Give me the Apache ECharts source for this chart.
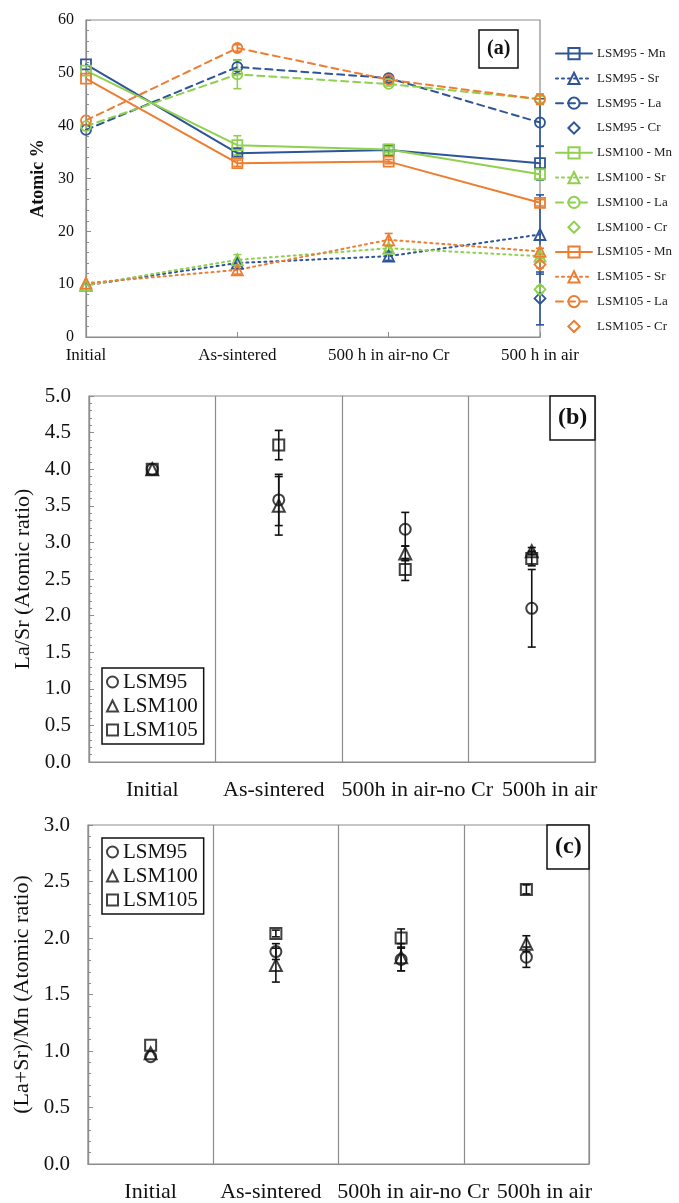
<!DOCTYPE html>
<html>
<head>
<meta charset="utf-8">
<title>LSM surface composition</title>
<script src="https://cdn.jsdelivr.net/npm/echarts@6/dist/echarts.min.js"></script>
<style>
  html, body { margin: 0; padding: 0; background: #fff; }
  #chart { width: 679px; height: 1203px; }
</style>
</head>
<body>
<div id="chart"></div>
<script>
// ---------------------------------------------------------------
// data
// ---------------------------------------------------------------
const stagesA = ['Initial', 'As-sintered', '500 h in air-no Cr', '500 h in air'];
const stagesBC = ['Initial', 'As-sintered', '500h in air-no Cr', '500h in air'];

// (a) Atomic %  (values, then +/- error)
const lsm95Mn = [51.6, 34.8, 35.4, 32.9];
const lsm95Sr = [9.8, 14.0, 15.3, 19.4];
const lsm95La = [39.2, 51.1, 49.0, 40.6];
const lsm95Cr = ['-', '-', '-', 7.3];
const lsm95MnErr = [0, 0.6, 1.0, 3.2];
const lsm95SrErr = [0, 0.5, 0.8, 7.5];
const lsm95LaErr = [0, 1.3, 0.4, 4.5];
const lsm95CrErr = [0, 0, 0, 5.0];

const lsm100Mn = [50.4, 36.3, 35.5, 30.8];
const lsm100Sr = [9.8, 14.6, 16.8, 15.3];
const lsm100La = [39.9, 49.7, 47.9, 45.0];
const lsm100Cr = ['-', '-', '-', 9.0];
const lsm100MnErr = [0, 1.8, 0.5, 1.0];
const lsm100SrErr = [0, 1.0, 0.5, 0.5];
const lsm100LaErr = [0, 2.7, 0.4, 0.6];
const lsm100CrErr = [0, 0, 0, 0.6];

const lsm105Mn = [48.9, 32.9, 33.2, 25.4];
const lsm105Sr = [10.2, 12.7, 18.4, 16.2];
const lsm105La = [41.0, 54.7, 48.7, 45.0];
const lsm105Cr = ['-', '-', '-', 13.7];
const lsm105MnErr = [0, 0.6, 0.4, 0.6];
const lsm105SrErr = [0, 0.8, 1.2, 0.6];
const lsm105LaErr = [0, 0.6, 0.4, 1.0];
const lsm105CrErr = [0, 0, 0, 0.6];

// (b) La/Sr atomic ratio
const ratioB95 = [4.0, 3.58, 3.18, 2.10];
const ratioB100 = [4.0, 3.50, 2.85, 2.88];
const ratioB105 = [4.0, 4.33, 2.63, 2.78];
const ratioB95Err = [0, 0.35, 0.23, 0.53];
const ratioB100Err = [0, 0.40, 0.10, 0.05];
const ratioB105Err = [0, 0.20, 0.15, 0.10];

// (c) (La+Sr)/Mn atomic ratio
const ratioC95 = [0.95, 1.88, 1.81, 1.83];
const ratioC100 = [0.98, 1.76, 1.83, 1.95];
const ratioC105 = [1.05, 2.04, 2.00, 2.43];
const ratioC95Err = [0, 0.07, 0.10, 0.09];
const ratioC100Err = [0, 0.15, 0.12, 0.07];
const ratioC105Err = [0, 0.03, 0.08, 0.04];

// ---------------------------------------------------------------
// styles
// ---------------------------------------------------------------
const SERIF = '"Liberation Serif", "Times New Roman", serif';
const BLUE = '#2E5597';
const GREEN = '#8FD14F';
const ORANGE = '#ED7D31';
const INK = '#111';
const AXIS_GREY = '#8c8c8c';
const CLEAR = 'rgba(255,255,255,0)';

const chart = echarts.init(document.getElementById('chart'), null, { renderer: 'canvas' });

// error bar: vertical line + two caps, in data coordinates
function errorBarItem(params, api) {
    const x = api.value(0);
    const top = api.coord([x, api.value(2)]);
    const bot = api.coord([x, api.value(1)]);
    const half = 4;
    const style = { stroke: api.visual('color'), lineWidth: 1.6 };
    return {
        type: 'group',
        children: [
            { type: 'line', shape: { x1: top[0], y1: top[1], x2: bot[0], y2: bot[1] }, style },
            { type: 'line', shape: { x1: top[0] - half, y1: top[1], x2: top[0] + half, y2: top[1] }, style },
            { type: 'line', shape: { x1: bot[0] - half, y1: bot[1], x2: bot[0] + half, y2: bot[1] }, style }
        ]
    };
}

function errorSeries(name, values, errs, color, gridIdx) {
    const data = [];
    values.forEach((v, i) => {
        if (typeof v === 'number' && errs[i] > 0) data.push([i, v - errs[i], v + errs[i]]);
    });
    return {
        name: name + ' err',
        type: 'custom',
        xAxisIndex: gridIdx,
        yAxisIndex: gridIdx,
        renderItem: errorBarItem,
        itemStyle: { color },
        encode: { x: 0, y: [1, 2] },
        data,
        z: 3,
        silent: true
    };
}

// ---------- panel (a) ----------
// Cr has a single point, drawn as a line series with an invisible line so the
// legend keeps the diamond at its own aspect
const LINE_KINDS = {
    Mn: { symbol: 'rect', size: 10, type: 'solid', width: 2 },
    Sr: { symbol: 'triangle', size: 11, type: [2, 4], width: 2 },
    La: { symbol: 'circle', size: 10, type: [7, 5], width: 2 },
    Cr: { symbol: 'diamond', size: 11, type: 'solid', width: 0 }
};

const groupsA = [
    { tag: 'LSM95', color: BLUE, Mn: [lsm95Mn, lsm95MnErr], Sr: [lsm95Sr, lsm95SrErr], La: [lsm95La, lsm95LaErr], Cr: [lsm95Cr, lsm95CrErr] },
    { tag: 'LSM100', color: GREEN, Mn: [lsm100Mn, lsm100MnErr], Sr: [lsm100Sr, lsm100SrErr], La: [lsm100La, lsm100LaErr], Cr: [lsm100Cr, lsm100CrErr] },
    { tag: 'LSM105', color: ORANGE, Mn: [lsm105Mn, lsm105MnErr], Sr: [lsm105Sr, lsm105SrErr], La: [lsm105La, lsm105LaErr], Cr: [lsm105Cr, lsm105CrErr] }
];

const seriesA = [];
const errorsA = [];
const legendA = [];
groupsA.forEach(g => {
    ['Mn', 'Sr', 'La', 'Cr'].forEach(el => {
        const k = LINE_KINDS[el];
        const name = g.tag + ' - ' + el;
        legendA.push(name);
        seriesA.push({
            name,
            type: 'line',
            xAxisIndex: 0,
            yAxisIndex: 0,
            data: g[el][0],
            symbol: k.symbol,
            symbolSize: k.size,
            showAllSymbol: true,
            lineStyle: { color: g.color, width: k.width, type: k.type, cap: 'round', opacity: k.width ? 1 : 0 },
            itemStyle: { color: CLEAR, borderColor: g.color, borderWidth: 1.8 },
            z: 4
        });
        errorsA.push(errorSeries(name, g[el][0], g[el][1], g.color, 0));
    });
});

// ---------- panels (b) and (c) ----------
const MARKERS = { LSM95: 'circle', LSM100: 'triangle', LSM105: 'rect' };

function ratioSeries(name, values, errs, gridIdx) {
    return [
        errorSeries(name, values, errs, INK, gridIdx),
        {
            name,
            type: 'scatter',
            xAxisIndex: gridIdx,
            yAxisIndex: gridIdx,
            data: values,
            symbol: MARKERS[name],
            symbolSize: name === 'LSM100' ? 12 : 11,
            itemStyle: { color: CLEAR, borderColor: INK, borderWidth: 2 },
            z: 4
        }
    ];
}

const seriesB = [
    ...ratioSeries('LSM95', ratioB95, ratioB95Err, 1),
    ...ratioSeries('LSM100', ratioB100, ratioB100Err, 1),
    ...ratioSeries('LSM105', ratioB105, ratioB105Err, 1)
];
const seriesC = [
    ...ratioSeries('LSM95', ratioC95, ratioC95Err, 2),
    ...ratioSeries('LSM100', ratioC100, ratioC100Err, 2),
    ...ratioSeries('LSM105', ratioC105, ratioC105Err, 2)
];

// the lower category labels are staggered in the original, nudge them a bit
const labelPadBC = [[0, 0, 0, 0], [0, 10, 0, 0], [0, 0, 0, 24], [0, 0, 0, 36]];
const richBC = {};
labelPadBC.forEach((p, i) => {
    richBC['s' + i] = { fontFamily: SERIF, fontSize: 22, color: INK, padding: p };
});

function ratioXAxis(gridIdx) {
    return {
        type: 'category',
        gridIndex: gridIdx,
        data: stagesBC,
        boundaryGap: true,
        axisLine: { lineStyle: { color: AXIS_GREY, width: 1.2 } },
        axisTick: { show: false },
        splitLine: { show: true, lineStyle: { color: AXIS_GREY, width: 1.2 } },
        axisLabel: {
            interval: 0,
            margin: 17,
            formatter: (v, i) => `{s${i}|${v}}`,
            rich: richBC
        }
    };
}

function ratioYAxis(gridIdx, max, name, gap) {
    return {
        type: 'value',
        gridIndex: gridIdx,
        min: 0,
        max,
        interval: 0.5,
        name,
        nameLocation: 'middle',
        nameGap: gap,
        nameTextStyle: { fontFamily: SERIF, fontSize: 22, color: INK },
        axisLine: { show: true, lineStyle: { color: AXIS_GREY, width: 1.2 } },
        axisTick: { show: true, inside: true, length: 5, lineStyle: { color: AXIS_GREY } },
        minorTick: { show: true, splitNumber: 5, length: 3, lineStyle: { color: AXIS_GREY } },
        splitLine: { show: false },
        axisLabel: { fontFamily: SERIF, fontSize: 21, color: INK, margin: 18, formatter: v => v.toFixed(1) }
    };
}

function ratioLegend(top) {
    return {
        data: ['LSM95', 'LSM100', 'LSM105'],
        orient: 'vertical',
        left: 102,
        top,
        itemWidth: 11,
        itemHeight: 11,
        itemGap: 2,
        itemTextGap: 3,
        padding: [3, 6, 3, 4],
        borderColor: INK,
        borderWidth: 1.5,
        backgroundColor: '#fff',
        selectedMode: false,
        textStyle: { fontFamily: SERIF, fontSize: 21, color: INK, lineHeight: 22 }
    };
}

function panelTag(text, left, top, size, pad) {
    return {
        text,
        left,
        top,
        padding: pad,
        borderColor: INK,
        borderWidth: 1.5,
        backgroundColor: '#fff',
        textStyle: { fontFamily: SERIF, fontWeight: 'bold', fontSize: size, color: INK, lineHeight: size + 4 }
    };
}

const option = {
    animation: false,
    backgroundColor: '#fff',
    title: [
        panelTag('(a)', 479, 30, 20, [7, 8]),
        panelTag('(b)', 550, 396, 24, [8, 8]),
        panelTag('(c)', 547, 825, 24, [8, 8])
    ],
    legend: [
        {
            data: legendA,
            orient: 'vertical',
            left: 550,
            top: 42,
            itemWidth: 36,
            itemHeight: 14,
            itemGap: 11.6,
            itemTextGap: 2,
            selectedMode: false,
            textStyle: { fontFamily: SERIF, fontSize: 13, color: '#222' }
        },
        ratioLegend(668),
        ratioLegend(838)
    ],
    grid: [
        { left: 86, top: 20, width: 454, height: 317, show: true, borderColor: AXIS_GREY, borderWidth: 1.2, outerBoundsMode: 'none' },
        { left: 89, top: 396, width: 506, height: 366, show: true, borderColor: AXIS_GREY, borderWidth: 1.2, outerBoundsMode: 'none' },
        { left: 88, top: 825, width: 501, height: 339, show: true, borderColor: AXIS_GREY, borderWidth: 1.2, outerBoundsMode: 'none' }
    ],
    xAxis: [
        {
            type: 'category',
            gridIndex: 0,
            data: stagesA,
            boundaryGap: false,
            axisLine: { lineStyle: { color: AXIS_GREY, width: 1.2 } },
            axisTick: { show: true, inside: true, length: 5, lineStyle: { color: AXIS_GREY } },
            splitLine: { show: false },
            axisLabel: { interval: 0, margin: 10, fontFamily: SERIF, fontSize: 17, color: INK }
        },
        ratioXAxis(1),
        ratioXAxis(2)
    ],
    yAxis: [
        {
            type: 'value',
            gridIndex: 0,
            min: 0,
            max: 60,
            interval: 10,
            name: 'Atomic %',
            nameLocation: 'middle',
            nameGap: 33,
            nameTextStyle: { fontFamily: SERIF, fontSize: 18, fontWeight: 'bold', color: INK },
            axisLine: { show: true, lineStyle: { color: AXIS_GREY, width: 1.2 } },
            axisTick: { show: true, inside: true, length: 5, lineStyle: { color: AXIS_GREY } },
            minorTick: { show: true, splitNumber: 5, length: 3, lineStyle: { color: AXIS_GREY } },
            splitLine: { show: false },
            axisLabel: { fontFamily: SERIF, fontSize: 16, color: INK, margin: 12 }
        },
        ratioYAxis(1, 5, 'La/Sr (Atomic ratio)', 55),
        ratioYAxis(2, 3, '(La+Sr)/Mn (Atomic ratio)', 54)
    ],
    series: [...errorsA, ...seriesA, ...seriesB, ...seriesC]
};

chart.setOption(option);
</script>
</body>
</html>
